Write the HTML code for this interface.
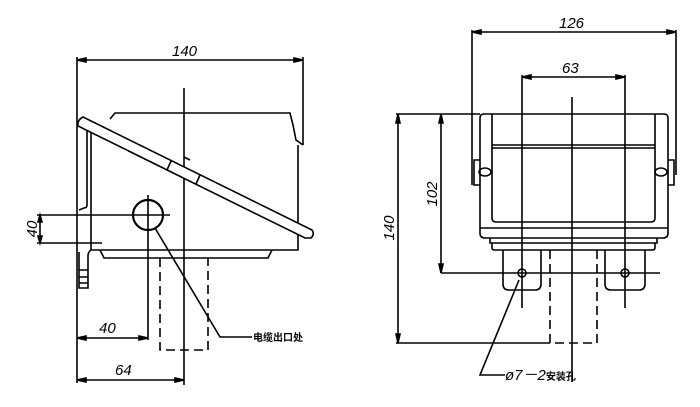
<!DOCTYPE html>
<html><head><meta charset="utf-8"><style>
html,body{margin:0;padding:0;background:#fff;}
svg{display:block;}
text{font-family:"Liberation Sans","Noto Sans CJK SC",sans-serif;font-style:italic;font-size:15px;fill:#000;}
.cn{font-style:normal;font-size:10px;font-weight:bold;}
</style></head><body>
<svg width="700" height="407" viewBox="0 0 700 407" xmlns="http://www.w3.org/2000/svg">
<g stroke="#000" stroke-width="1.6" fill="none">
<!-- LEFT VIEW -->
<line x1="77" y1="57" x2="77" y2="383"/>
<line x1="303" y1="57" x2="303" y2="145"/>
<line x1="77" y1="60" x2="303" y2="60"/>
<path d="M77 60 l9 -2 v4 z M303 60 l-9 -2 v4 z" fill="#000"/>
<line x1="184" y1="88" x2="184" y2="385"/>
<!-- box -->
<path d="M110 119 L115 113 L290 113 L293 125 L296 140 L303 145"/>
<path d="M298 145 V250 H91 V133"/>
<path d="M100 250 L104 258 H268 L272 250"/>
<!-- bracket -->
<path d="M87 131 V205 Q87 208 84 208 L79 210"/>
<path d="M91 250 Q88 252 88 256 V288 H79 V252"/>
<path d="M79 270 H88 M79 277 H88 M79 283 H88"/>
<!-- lid -->
<path d="M83 117 L312 230 Q315 234 311 238 L305 238 L78 126 Q77 120 83 117 Z" fill="#fff"/>
<line x1="171" y1="161" x2="167" y2="170"/>
<line x1="200" y1="175" x2="196" y2="184"/>
<path d="M184 157 L190 160"/>
<!-- circle -->
<circle cx="148" cy="215" r="15" stroke-width="2.2"/>
<line x1="148" y1="195" x2="148" y2="340"/>
<line x1="37" y1="215" x2="170" y2="215"/>
<line x1="37" y1="243" x2="102" y2="243"/>
<line x1="40" y1="215" x2="40" y2="243"/>
<path d="M40 215 l-2 7 h4 z M40 243 l-2 -7 h4 z" fill="#000"/>
<!-- dashed -->
<path d="M160 258 V350 H208 V258" stroke-dasharray="9,5"/>
<!-- dims -->
<line x1="77" y1="338" x2="148" y2="338"/>
<path d="M77 338 l9 -2 v4 z M148 338 l-9 -2 v4 z" fill="#000"/>
<line x1="77" y1="380" x2="184" y2="380"/>
<path d="M77 380 l9 -2 v4 z M184 380 l-9 -2 v4 z" fill="#000"/>
<polyline points="155,228 220,337 252,337"/>

<!-- RIGHT VIEW -->
<line x1="472" y1="30" x2="472" y2="185"/>
<line x1="676" y1="30" x2="676" y2="175"/>
<line x1="472" y1="32" x2="676" y2="32"/>
<path d="M472 32 l9 -2 v4 z M676 32 l-9 -2 v4 z" fill="#000"/>
<line x1="522" y1="75" x2="522" y2="308"/>
<line x1="625" y1="75" x2="625" y2="308"/>
<line x1="522" y1="77" x2="625" y2="77"/>
<path d="M522 77 l9 -2 v4 z M625 77 l-9 -2 v4 z" fill="#000"/>
<line x1="572" y1="97" x2="572" y2="382"/>
<!-- box -->
<path d="M480 118 Q480 114 484 114 H664 Q668 114 668 118 V233 Q668 238 663 238 H485 Q480 238 480 233 Z"/>
<path d="M492 114 V218 Q492 222 496 222 H651 Q655 222 655 218 V114"/>
<line x1="492" y1="145" x2="655" y2="145"/>
<line x1="492" y1="148" x2="655" y2="148"/>
<line x1="480" y1="228" x2="668" y2="228"/>
<path d="M490 238 V243 H657 V238 M492 243 V248 Q492 250 495 250 H652 Q655 250 655 248 V243"/>
<!-- ears -->
<path d="M480 160 H474 V185 H480"/>
<path d="M668 160 H674 V185 H668"/>
<ellipse cx="485" cy="172" rx="6" ry="4"/>
<ellipse cx="661" cy="172" rx="6" ry="4"/>
<!-- feet -->
<path d="M503 250 V284 Q503 290 509 290 H535 Q541 290 541 284 V250"/>
<path d="M605 250 V284 Q605 290 611 290 H639 Q645 290 645 284 V250"/>
<circle cx="522" cy="273" r="4"/>
<circle cx="625" cy="273" r="4"/>
<line x1="441" y1="273" x2="660" y2="273"/>
<path d="M550 250 V343 H597 V250" stroke-dasharray="9,5"/>
<!-- 102 / 140 -->
<line x1="396" y1="114" x2="480" y2="114"/>
<line x1="441" y1="114" x2="441" y2="273"/>
<path d="M441 114 l-2 9 h4 z M441 273 l-2 -9 h4 z" fill="#000"/>
<line x1="398" y1="114" x2="398" y2="343"/>
<path d="M398 114 l-2 9 h4 z M398 343 l-2 -9 h4 z" fill="#000"/>
<line x1="396" y1="343" x2="550" y2="343"/>
<polyline points="519,280 480,375 505,375"/>
</g>
<text x="172" y="56">140</text>
<text x="99" y="333">40</text>
<text x="115" y="375">64</text>
<text transform="translate(37,229) rotate(-90)" text-anchor="middle">40</text>
<text class="cn" x="253" y="341">电缆出口处</text>
<text x="559" y="28">126</text>
<text x="562" y="73">63</text>
<text transform="translate(437,194) rotate(-90)" text-anchor="middle">102</text>
<text transform="translate(394,228) rotate(-90)" text-anchor="middle">140</text>
<text x="505" y="380">ø7－2<tspan style="font-style:normal;font-size:10px;font-weight:bold">安装孔</tspan></text>
</svg>
</body></html>
